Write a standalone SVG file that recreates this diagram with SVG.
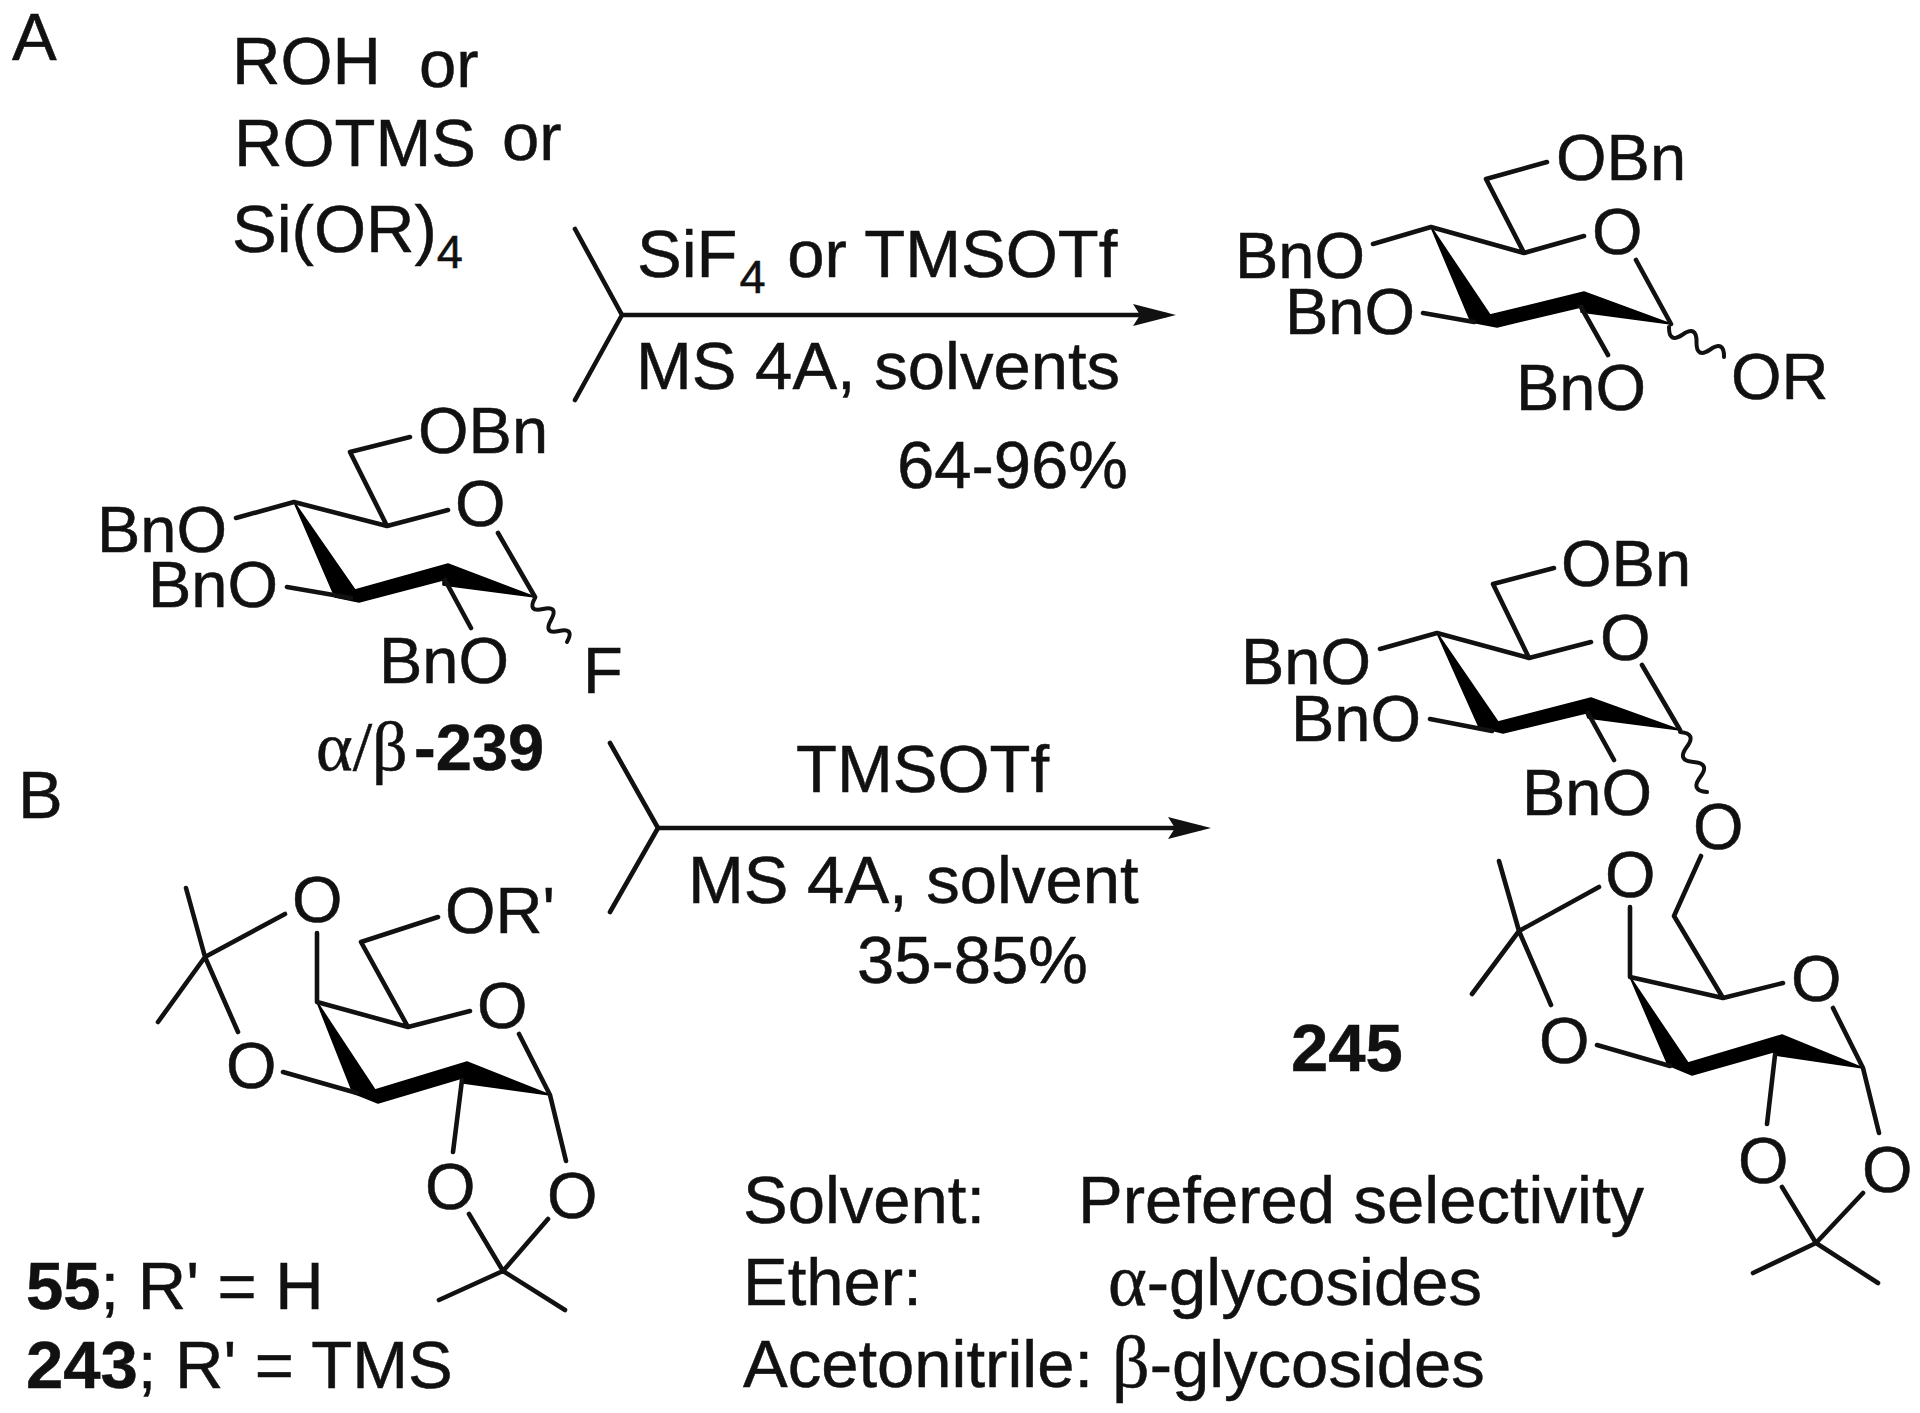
<svg xmlns="http://www.w3.org/2000/svg" width="1920" height="1413" viewBox="0 0 1920 1413">
<style>
text{font-family:"Liberation Sans",Arial,sans-serif;font-size:67px;fill:#111;stroke:#111;stroke-width:.5}
.m text{font-size:65px}
.m text.l{font-size:67px}
.b{font-weight:bold}
.g{font-family:"Liberation Serif","Times New Roman",serif;font-size:74px}
.ab{font-family:"Liberation Serif","Times New Roman",serif;font-size:70px}
.s{stroke:#111;stroke-width:4.6;fill:none;stroke-linecap:round;stroke-linejoin:round}
.wv{stroke:#111;stroke-width:4;fill:none;stroke-linecap:round;stroke-linejoin:round}
.w{fill:#000;stroke:#000;stroke-width:1.5;stroke-linejoin:round}
.sub{font-size:47px}
</style>
<defs>
<marker id="ah" markerUnits="userSpaceOnUse" markerWidth="50" markerHeight="30" refX="33" refY="15" orient="auto">
<path d="M0 4L43 15L0 26L7 15Z" fill="#111"/>
</marker>
</defs>
<rect width="1920" height="1413" fill="#fff"/>
<g id="connectors">
<path class="s" d="M575 229L622 315L575 400"/>
<path class="s" d="M622 315H1166" marker-end="url(#ah)"/>
<path class="s" d="M610 743L658 828L610 912"/>
<path class="s" d="M658 828H1201" marker-end="url(#ah)"/>
</g>
<g id="labels" transform="translate(0 1)">
<text x="12" y="59">A</text>
<text x="18" y="817">B</text>
<text x="232" y="83">ROH</text><text x="419" y="86">or</text>
<text x="234" y="165">ROTMS</text><text x="502" y="159">or</text>
<text x="232" y="251">Si(OR)<tspan class="sub" dy="16">4</tspan></text>
<text x="637" y="276">SiF<tspan class="sub" dy="16" dx="2">4</tspan><tspan dy="-16" dx="3"> or TMSOTf</tspan></text>
<text x="636" y="388">MS 4A, solvents</text>
<text x="897" y="487">64-96%</text>
<text x="796" y="791">TMSOTf</text>
<text x="688" y="902">MS 4A, solvent</text>
<text x="857" y="982">35-85%</text>
<text x="743" y="1222">Solvent:</text><text x="1078" y="1222">Prefered selectivity</text>
<text x="743" y="1304">Ether:</text><text x="1108" y="1304"><tspan class="g">α</tspan>-glycosides</text>
<text x="743" y="1386">Acetonitrile:</text><text x="1112" y="1386"><tspan class="g">β</tspan>-glycosides</text>
</g>
<g id="compound-239" class="m">
<path class="w" d="M294 502L355 590L448 564L535 597L443 585L443 580L359 602L335 597Z"/>
<path class="s" d="M410 437L350 452L387 526L448 510M387 526L294 502L236 518M287 587L351 598M498 533L535 597M445 580L471 628"/>
<path class="wv" d="M535 598q-8 14.4 8 11t8 11t8 11t8 11"/>
<text x="418" y="453">OBn</text>
<text x="455" y="526">O</text>
<text x="97" y="552">BnO</text>
<text x="148" y="607">BnO</text>
<text x="379" y="683">BnO</text>
<text x="583" y="693">F</text>
<text x="316" y="770"><tspan class="ab">α/β</tspan><tspan class="b" x="414">-239</tspan></text>
</g>
<g id="product-A" class="m">
<path class="w" d="M1431 227L1490 315L1584 292L1671 324L1581 312L1581 307L1497 327L1471 322Z"/>
<path class="s" d="M1547 162L1486 179L1524 253L1584 236M1524 253L1431 227L1373 244M1423 313L1474 322M1636 260L1671 324M1581 307L1608 355"/>
<path class="wv" d="M1669 327q-0.3 17 13.75 7.5t13.75 7.5t13.75 7.5t13.75 7.5"/>
<text x="1556" y="180">OBn</text>
<text x="1592" y="254">O</text>
<text x="1235" y="278">BnO</text>
<text x="1285" y="334">BnO</text>
<text x="1516" y="410">BnO</text>
<text x="1731" y="399">OR</text>
</g>
<g id="compound-55-243" class="m">
<path class="w" d="M317 1002L375 1090L467 1062L550 1095L463 1083L462 1078L378 1103L353 1093Z"/>
<path class="s" d="M438 917L361 942L408 1027L470 1011M408 1027L317 1002V933M283 1072L357 1093M519 1034L550 1095L566 1161M462 1080L453 1152M469 1214L503 1271L548 1219M439 1300L503 1271L565 1310M186 888L205 957L285 914M158 1022L205 957L238 1032"/>
<text x="292" y="922">O</text>
<text x="445" y="933">OR'</text>
<text x="477" y="1028">O</text>
<text x="226" y="1088">O</text>
<text x="425" y="1209">O</text>
<text x="547" y="1218">O</text>
<text class="l" x="26" y="1309"><tspan class="b">55</tspan>; R' = H</text>
<text class="l" x="26" y="1388"><tspan class="b">243</tspan>; R' = TMS</text>
</g>
<g id="product-245" class="m">
<path class="w" d="M1437 633L1498 722L1591 698L1680 730L1588 718L1586 713L1503 733L1479 727Z"/>
<path class="w" d="M1630 977L1688 1063L1782 1035L1863 1068L1775 1055L1773 1052L1692 1075L1668 1065Z"/>
<path class="s" d="M1554 568L1493 584L1529 658L1591 642M1529 658L1437 633L1380 649M1430 719L1492 731M1642 665L1680 730M1588 713L1614 760M1701 856L1674 916L1723 998L1783 983M1723 998L1630 977V907M1599 887L1519 931L1499 861M1472 994L1519 931L1551 1005M1597 1045L1670 1066M1833 1008L1863 1068L1879 1133M1775 1055L1767 1124M1782 1187L1816 1243L1863 1193M1753 1273L1816 1243L1878 1283"/>
<path class="wv" d="M1680 732q17 1.3 6.75 15t6.75 15t6.75 15t6.75 15"/>
<text x="1561" y="586">OBn</text>
<text x="1600" y="660">O</text>
<text x="1241" y="684">BnO</text>
<text x="1291" y="741">BnO</text>
<text x="1522" y="815">BnO</text>
<text x="1693" y="849">O</text>
<text x="1605" y="897">O</text>
<text x="1791" y="1001">O</text>
<text x="1539" y="1063">O</text>
<text x="1738" y="1183">O</text>
<text x="1862" y="1192">O</text>
<text class="b l" x="1291" y="1071">245</text>
</g>
</svg>
